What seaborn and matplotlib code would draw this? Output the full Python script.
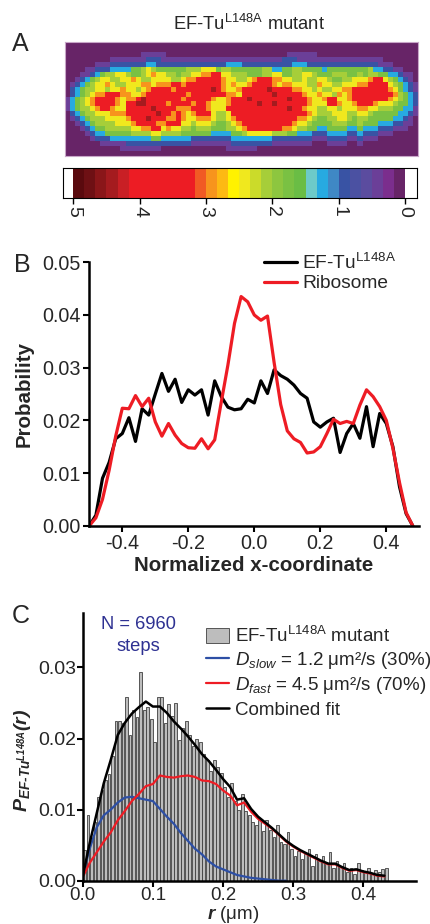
import numpy as np
import pandas as pd
import matplotlib
matplotlib.use("Agg")
import matplotlib.pyplot as plt
import seaborn as sns
from matplotlib.colors import ListedColormap
from matplotlib.ticker import FormatStrFormatter

# ---------------- Panel A data ----------------
# each digit is an intensity class; heat_level_values maps the class to a value (0-5)
heat_rows = [
    "0000000000 0000000000 0000000000 0000000000 0000000000 0000000000 0000000000",
    "0000000000 0000000000 0000000000 0000000000 0000000000 0000000000 0000000000",
    "000000000000000 11111 000000000000000000000000 111111 00000000000000000000",
    "000000000 1111111 222 1111111111111 1111111111 12221 1111111111111 111 0000000",
    "000000 111 2222222 3322 2222222222 2233322222 2222233322 2222222222 2211 1 00000",
    "0000 11 222 3333 4456 5444 4445 5566 6455 4444 4455 3344 5544 4434 4444 4445 3322 11 000",
    "000 11 23 4556 6544 5676 6554 5566 7788 6655 5444 5566 4455 6654 4455 5445 4554 4332 11 0",
    "00 1 23 45 6655 6676 5566 6655 6778 8888 7665 5678 8877 6655 6556 6544 5566 6788 6543 21 0",
    "0 12 34 56 6765 5666 7767 7788 7888 8888 7676 6788 8876 7766 6557 6655 6667 7888 8654 32 1",
    "0 23 45 56 6566 7665 6788 8878 8888 8898 7667 8888 8988 8877 6656 5566 7788 8888 8764 32 1",
    "0 23 45 67 7888 7766 7888 8888 8788 8888 8776 8888 8898 8888 7667 6657 6788 8888 8875 43 2",
    "1 34 56 78 8887 6778 9888 8888 7888 8876 6788 8988 8888 8988 8766 7886 6788 8888 8765 43 2",
    "1 34 56 78 8887 6889 9888 8788 8878 8766 6788 8889 8898 8888 8766 6887 6678 8876 6654 43 2",
    "1 34 55 67 8876 6888 8898 8887 7788 8766 6888 8888 8888 8988 7665 5665 6667 7665 5544 33 1",
    "0 23 45 56 6677 7888 8889 8878 7678 8865 5688 8888 8888 8888 8765 5566 6556 6544 4443 32 1",
    "0 12 34 55 5666 6788 8988 8778 7667 7765 5678 8888 8888 8887 7654 4556 6545 5444 4433 21 0",
    "0 01 23 45 5556 6678 8887 7888 6656 6654 4567 8888 8888 8876 6544 4455 5445 4443 3322 11 0",
    "0 00 12 34 4555 5566 7788 6766 5545 5544 4556 7888 8888 7765 5443 3444 4334 3332 2211 10 0",
    "0 00 01 23 3444 4455 5566 5555 4444 4433 3344 5666 6655 5443 3322 2333 3223 2221 1100 00 0",
    "0 00 00 12 2233 3333 3344 3333 3322 2222 2233 3333 3322 2222 2211 1222 2112 1110 0000 00 0",
    "0000000 1111 1222 2222 2222 2211 1111 1122 2222 2211 1111 1100 0111 1001 0000 0000 00 0",
    "00000000000 11111111 0000000000000 111111 00000000000000000000000000000000",
    "0000000000 0000000000 0000000000 0000000000 0000000000 0000000000 0000000000",
]
heat_level_values = [0.08, 0.40, 0.92, 1.25, 1.75, 2.05, 2.45, 2.92, 3.60, 4.45]
cbar_colors = [
    "#672467", "#7b2e8d", "#6b3f98", "#5b4c9f", "#4b51a2", "#3953a4",
    "#3f88c5", "#27aae1", "#6dcac9", "#6abd45", "#7ac143", "#8dc63f",
    "#a6ce39", "#cbdb2a", "#f0e81e", "#fff200", "#fdb913", "#f7941d",
    "#f15a24", "#ed1c24", "#ed1c24", "#ed1c24", "#ed1c24", "#ed1c24",
    "#ed1c24", "#c91f25", "#a51b1f", "#8a1619", "#6e1014", "#5a0a0e",
]
cbar_ticks = [5, 4, 3, 2, 1, 0]

# ---------------- Panel B data ----------------
x_norm = [-0.50, -0.48, -0.46, -0.44, -0.42, -0.40, -0.38, -0.36, -0.34, -0.32,
          -0.30, -0.28, -0.26, -0.24, -0.22, -0.20, -0.18, -0.16, -0.14, -0.12,
          -0.10, -0.08, -0.06, -0.04, -0.02, 0.00, 0.02, 0.04, 0.06, 0.08,
          0.10, 0.12, 0.14, 0.16, 0.18, 0.20, 0.22, 0.24, 0.26, 0.28,
          0.30, 0.32, 0.34, 0.36, 0.38, 0.40, 0.42, 0.44, 0.46, 0.48]
eftu_prob = [0.0000, 0.0020, 0.0090, 0.0120, 0.0165, 0.0175, 0.0205, 0.0160, 0.0222, 0.0210,
             0.0250, 0.0289, 0.0255, 0.0278, 0.0234, 0.0258, 0.0248, 0.0258, 0.0210, 0.0275,
             0.0245, 0.0225, 0.0220, 0.0222, 0.0240, 0.0233, 0.0275, 0.0251, 0.0296, 0.0285,
             0.0278, 0.0267, 0.0251, 0.0242, 0.0197, 0.0187, 0.0197, 0.0204, 0.0139, 0.0175,
             0.0194, 0.0166, 0.0226, 0.0150, 0.0213, 0.0194, 0.0150, 0.0074, 0.0023, 0.0000]
ribo_prob = [0.0000, 0.0015, 0.0050, 0.0105, 0.0170, 0.0223, 0.0222, 0.0247, 0.0226, 0.0242,
             0.0197, 0.0170, 0.0194, 0.0172, 0.0156, 0.0148, 0.0147, 0.0165, 0.0146, 0.0163,
             0.0235, 0.0305, 0.0384, 0.0435, 0.0425, 0.0400, 0.0390, 0.0398, 0.0310, 0.0230,
             0.0180, 0.0165, 0.0158, 0.0138, 0.0140, 0.0150, 0.0175, 0.0202, 0.0194, 0.0198,
             0.0194, 0.0229, 0.0258, 0.0245, 0.0226, 0.0200, 0.0147, 0.0082, 0.0025, 0.0000]

# ---------------- Panel C data ----------------
p_hist = [0.0043, 0.0092, 0.0060, 0.0082, 0.0118, 0.0128, 0.0142, 0.0150, 0.0175, 0.0224,
          0.0225, 0.0222, 0.0258, 0.0205, 0.0240, 0.0230, 0.0294, 0.0240, 0.0245, 0.0228,
          0.0195, 0.0258, 0.0258, 0.0222, 0.0248, 0.0232, 0.0250, 0.0198, 0.0215, 0.0225,
          0.0205, 0.0190, 0.0200, 0.0195, 0.0178, 0.0170, 0.0155, 0.0170, 0.0160, 0.0152,
          0.0132, 0.0118, 0.0138, 0.0112, 0.0100, 0.0122, 0.0098, 0.0092, 0.0082, 0.0078,
          0.0086, 0.0070, 0.0085, 0.0072, 0.0062, 0.0078, 0.0055, 0.0052, 0.0068, 0.0045,
          0.0035, 0.0042, 0.0030, 0.0038, 0.0045, 0.0020, 0.0038, 0.0028, 0.0035, 0.0025,
          0.0040, 0.0018, 0.0028, 0.0020, 0.0025, 0.0012, 0.0018, 0.0010, 0.0025, 0.0015,
          0.0012, 0.0018, 0.0010, 0.0015, 0.0012, 0.0016, 0.0018]
bin_width = 0.005
r_fit = [0.00, 0.01, 0.02, 0.03, 0.04, 0.05, 0.06, 0.07, 0.08, 0.09,
         0.10, 0.11, 0.12, 0.13, 0.14, 0.15, 0.16, 0.17, 0.18, 0.19,
         0.20, 0.21, 0.22, 0.23, 0.24, 0.25, 0.26, 0.27, 0.28, 0.29,
         0.30, 0.31, 0.32, 0.33, 0.34, 0.35, 0.36, 0.37, 0.38, 0.39,
         0.40, 0.41, 0.42, 0.43]
p_combined = [0.0006, 0.0053, 0.0095, 0.0137, 0.0170, 0.0205, 0.0222, 0.0235, 0.0244, 0.0252,
              0.0245, 0.0245, 0.0236, 0.0224, 0.0214, 0.0203, 0.0191, 0.0178, 0.0168, 0.0156,
              0.0143, 0.0132, 0.0114, 0.0116, 0.0101, 0.0090, 0.0082, 0.0074, 0.0065, 0.0056,
              0.0049, 0.0043, 0.0038, 0.0033, 0.0028, 0.0024, 0.0024, 0.0019, 0.0015, 0.0016,
              0.0013, 0.0011, 0.0008, 0.0007]
p_fast = [0.0005, 0.0025, 0.0040, 0.0055, 0.0068, 0.0085, 0.0098, 0.0112, 0.0122, 0.0133,
          0.0136, 0.0148, 0.0146, 0.0145, 0.0147, 0.0148, 0.0146, 0.0141, 0.0140, 0.0136,
          0.0127, 0.0120, 0.0106, 0.0110, 0.0097, 0.0087, 0.0080, 0.0073, 0.0064, 0.0055,
          0.0048, 0.0042, 0.0037, 0.0032, 0.0027, 0.0023, 0.0023, 0.0018, 0.0014, 0.0015,
          0.0012, 0.0010, 0.0007, 0.0006]
r_slow = [0.00, 0.01, 0.02, 0.03, 0.04, 0.05, 0.06, 0.07, 0.08, 0.09,
          0.10, 0.11, 0.12, 0.13, 0.14, 0.15, 0.16, 0.17, 0.18, 0.19,
          0.20, 0.21, 0.22, 0.23, 0.24, 0.25, 0.26, 0.27, 0.28, 0.29]
p_slow = [0.0008, 0.0045, 0.0075, 0.0092, 0.0100, 0.0110, 0.0117, 0.0118, 0.0116, 0.0114,
          0.0112, 0.0101, 0.0090, 0.0080, 0.0067, 0.0056, 0.0045, 0.0037, 0.0027, 0.0020,
          0.0016, 0.0012, 0.0008, 0.0006, 0.0004, 0.0003, 0.0002, 0.0001, 0.0000, 0.0000]

# ---------------- style ----------------
sns.set_theme(style="white")
plt.rcParams["font.family"] = ["Liberation Sans", "DejaVu Sans"]
plt.rcParams.update({
    "mathtext.fontset": "custom",
    "mathtext.rm": "Liberation Sans",
    "mathtext.it": "Liberation Sans:italic",
    "mathtext.bf": "Liberation Sans:italic:bold",
    "mathtext.default": "rm",
    "axes.unicode_minus": False,
})

fig = plt.figure(figsize=(4.30, 9.24), dpi=100)
W, H = 430.0, 924.0

def fax(x0, y0, x1, y1):
    return fig.add_axes([x0 / W, 1 - y1 / H, (x1 - x0) / W, (y1 - y0) / H])

# ---------------- Panel A ----------------
axA = fax(65, 42, 418, 156)
grid = np.array([[heat_level_values[int(c)] for c in row.replace(" ", "").ljust(70, "0")[:70]]
                 for row in heat_rows])
cmap = ListedColormap(cbar_colors)
sns.heatmap(grid, ax=axA, cmap=cmap, vmin=0, vmax=5, cbar=False,
            xticklabels=False, yticklabels=False)
for s in axA.spines.values():
    s.set_visible(True)
    s.set_color("#c8a6c8")
    s.set_linewidth(0.8)

axCB = fax(63, 168, 417, 198)
edges = np.linspace(0, 5, len(cbar_colors) + 1)
axCB.pcolormesh(edges, [0, 1], np.array([(edges[:-1] + edges[1:]) / 2]),
                cmap=cmap, vmin=0, vmax=5)
axCB.set_xlim(5.155, -0.18)
axCB.set_ylim(0, 1)
axCB.set_yticks([])
axCB.set_xticks(cbar_ticks)
axCB.set_xticklabels([str(t) for t in cbar_ticks], rotation=270, fontsize=14)
axCB.tick_params(axis="x", bottom=True, direction="out", length=4, width=1, color="black", pad=2)
for s in axCB.spines.values():
    s.set_color("black")
    s.set_linewidth(0.8)

fig.text(20 / W, 1 - 44 / H, "A", fontsize=18, ha="center", va="center")
fig.text(249 / W, 1 - 24 / H, r"EF-Tu$^{L148A}$ mutant", fontsize=13.2, ha="center", va="center")

# ---------------- Panel B ----------------
axB = fax(89.3, 262.3, 419.3, 525.7)
sns.lineplot(x=x_norm, y=eftu_prob, color="black", lw=2.3, ax=axB, label=r"EF-Tu$^{L148A}$")
sns.lineplot(x=x_norm, y=ribo_prob, color="#ee1c24", lw=2.3, ax=axB, label="Ribosome")
axB.set_xlim(-0.5, 0.5)
axB.set_ylim(0, 0.05)
axB.set_xticks([-0.4, -0.2, 0.0, 0.2, 0.4])
axB.set_yticks([0, 0.01, 0.02, 0.03, 0.04, 0.05])
axB.xaxis.set_major_formatter(FormatStrFormatter("%.1f"))
axB.yaxis.set_major_formatter(FormatStrFormatter("%.2f"))
sns.despine(ax=axB)
for s in ["left", "bottom"]:
    axB.spines[s].set_linewidth(1.8)
    axB.spines[s].set_color("black")
axB.tick_params(axis="both", direction="out", length=4, width=1.5, labelsize=14.2,
                color="black", bottom=True, left=True, pad=2)
axB.set_xlabel("Normalized x-coordinate", fontsize=14.8, fontweight="bold")
axB.set_ylabel("Probability", fontsize=14.8, fontweight="bold")
axB.xaxis.set_label_coords(0.499, -0.115)
axB.yaxis.set_label_coords(-0.17, 0.5)
axB.legend(loc="upper left", bbox_to_anchor=(264 / W, 1 - 253 / H), bbox_transform=fig.transFigure,
           frameon=False, fontsize=13.8, handlelength=1.7, handletextpad=0.3,
           labelspacing=0.1, borderpad=0, borderaxespad=0)
fig.text(22 / W, 1 - 265 / H, "B", fontsize=18, ha="center", va="center")

# ---------------- Panel C ----------------
axC = fax(82.7, 612.7, 416, 880.7)
r_hist = np.round(bin_width / 2 + bin_width * np.arange(len(p_hist)), 4)
sns.histplot(x=r_hist, weights=p_hist, binwidth=bin_width, binrange=(0, bin_width * len(p_hist)),
             shrink=0.8, color="#bdbdbd", edgecolor="#404040", linewidth=0.6, alpha=1,
             ax=axC, label=r"EF-Tu$^{L148A}$ mutant")
sns.lineplot(x=r_slow, y=p_slow, color="#2d4fa5", lw=1.6, ax=axC,
             label=r"$\mathit{D}_{\mathit{slow}}$ = 1.2 μm²/s (30%)")
sns.lineplot(x=r_fit, y=p_fast, color="#ee1c24", lw=1.6, ax=axC,
             label=r"$\mathit{D}_{\mathit{fast}}$ = 4.5 μm²/s (70%)")
sns.lineplot(x=r_fit, y=p_combined, color="black", lw=1.8, ax=axC, label="Combined fit")
axC.set_xlim(0, 0.475)
axC.set_ylim(0, 0.0377)
axC.set_xticks([0.0, 0.1, 0.2, 0.3, 0.4])
axC.set_yticks([0.0, 0.01, 0.02, 0.03])
axC.xaxis.set_major_formatter(FormatStrFormatter("%.1f"))
axC.yaxis.set_major_formatter(FormatStrFormatter("%.2f"))
sns.despine(ax=axC)
for s in ["left", "bottom"]:
    axC.spines[s].set_linewidth(1.8)
    axC.spines[s].set_color("black")
axC.tick_params(axis="both", direction="out", length=4, width=1.5, labelsize=14,
                color="black", pad=1, bottom=True, left=True)
axC.tick_params(axis="x", labelsize=13.5, pad=0.5)
axC.set_xlabel(r"$\mathbf{r}$ (μm)", fontsize=13.5)
axC.set_ylabel("$\\mathbf{P}_{\\mathbf{EF\u2010Tu}^{\\mathbf{L148A}}}\\mathbf{(r)}$", fontsize=14)
axC.xaxis.set_label_coords(0.451, -0.088)
axC.yaxis.set_label_coords(-0.15, 0.45)
handles, labels = axC.get_legend_handles_labels()
order = [i for i, l in enumerate(labels) if "mutant" in l] + \
        [i for i, l in enumerate(labels) if "mutant" not in l]
axC.legend([handles[i] for i in order], [labels[i] for i in order],
           loc="upper left", bbox_to_anchor=(206 / W, 1 - 626 / H), bbox_transform=fig.transFigure,
           frameon=False, fontsize=13.5, handlelength=1.25, handleheight=0.9,
           handletextpad=0.3, labelspacing=0.22, borderpad=0, borderaxespad=0)
axC.text(0.0795, 0.0360, "N = 6960", color="#2e3192", fontsize=13.2, ha="center", va="center")
axC.text(0.0795, 0.0329, "steps", color="#2e3192", fontsize=13.2, ha="center", va="center")
fig.text(21 / W, 1 - 616 / H, "C", fontsize=18, ha="center", va="center")

fig.savefig("out.png", dpi=100)
